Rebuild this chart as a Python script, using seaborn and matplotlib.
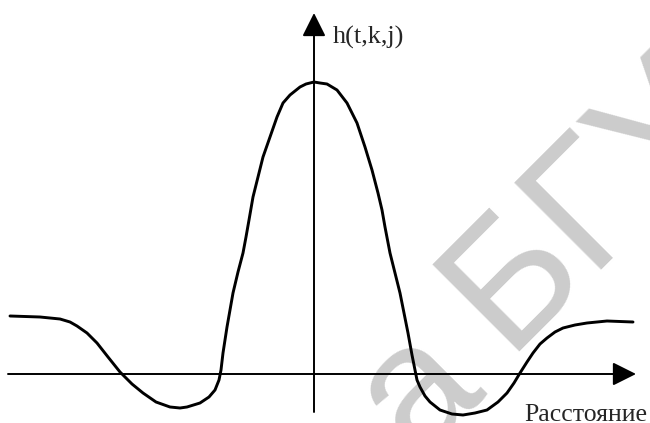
import numpy as np
import pandas as pd
import matplotlib
matplotlib.use("Agg")
import matplotlib.pyplot as plt
import seaborn as sns

# Values (arbitrary units, origin at the axes' crossing)
distance = [-304, -274, -254, -244, -237, -227, -217, -206, -194, -182, -171,
            -158, -144, -134, -127, -114, -105, -99, -95, -93, -91, -89, -87,
            -84, -81, -76, -71, -68, -65, -61, -56, -51, -44, -37, -31, -24,
            -14, -8, 0, 6, 13, 23, 33, 43, 51, 58, 64, 68, 71, 76, 81, 86, 90,
            94, 98, 101, 103, 106, 111, 116, 126, 138, 149, 161, 173, 184, 193,
            200, 206, 213, 219, 226, 233, 241, 249, 261, 273, 293, 319]
h_value = [58, 57, 55, 52, 48, 41, 31, 17, 2, -10, -19,
           -28, -33, -34, -33, -29, -23, -16, -6, 4, 21, 34, 47,
           64, 81, 102, 121, 137, 154, 177, 197, 217, 237, 257, 271, 279,
           287, 290, 292, 291, 290, 284, 271, 251, 227, 204, 181, 164, 147,
           121, 101, 81, 61,
           41, 19, 4, -6, -13, -22, -28, -36, -40, -41, -39, -36, -28, -19,
           -9, 1, 12, 21, 30, 36, 42, 46, 49, 51, 53, 52]

y_label = "h(t,k,j)"
x_label = "Расстояние"
watermark_main = "БГУИР"
watermark_prev = "а"

sns.set_style("white")
plt.rcParams["font.family"] = ["Liberation Serif", "DejaVu Serif"]

fig = plt.figure(figsize=(6.5, 4.23), dpi=100)
ax = fig.add_axes([0, 0, 1, 1])

# faint watermark behind everything
wm = dict(rotation=45, rotation_mode="anchor", ha="left", va="baseline",
          fontsize=128, color="#cccccc",
          family=["Liberation Sans", "DejaVu Sans"], zorder=0)
ax.text(191, 22, watermark_main, **wm)
ax.text(102, -85, watermark_prev, **wm)

df = pd.DataFrame({"distance": distance, "h": h_value})

arrow = dict(arrowstyle="-|>,head_length=0.4,head_width=0.2", lw=1.4,
             color="black", shrinkA=0, shrinkB=0, mutation_scale=36)
ax.annotate("", xy=(322, 0), xytext=(-306, 0), arrowprops=arrow, zorder=2)
ax.annotate("", xy=(0, 361), xytext=(0, -38), arrowprops=arrow, zorder=2)

sns.lineplot(data=df, x="distance", y="h", sort=False, color="black",
             lw=2.1, ax=ax, zorder=3, solid_joinstyle="round",
             solid_capstyle="round")
ax.set_xlim(-314, 336)
ax.set_ylim(-49, 374)
ax.axis("off")

ax.text(19, 337, y_label, ha="left", va="center", fontsize=19)
ax.text(333, -47, x_label, ha="right", va="baseline", fontsize=18.5)

fig.savefig("out.png", dpi=100)
